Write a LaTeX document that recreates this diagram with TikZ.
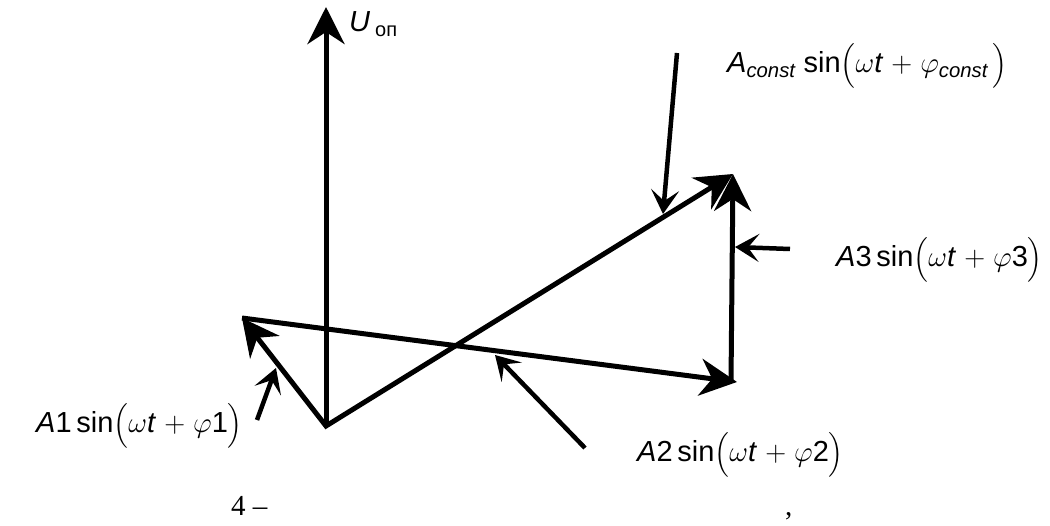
\RequirePackage{fix-cm}
\documentclass[tikz,border=0pt]{standalone}
\usepackage{amsmath}
\usepackage{fontspec}
\setmainfont{Liberation Sans}
\newfontfamily\serifrm{Liberation Serif}
\usetikzlibrary{arrows.meta}

\begin{document}
\begin{tikzpicture}[x=1pt, y=-1pt,
    vector/.style={line width=5pt, -{Stealth[length=37pt,width=37pt,inset=12pt]}},
    twovector/.style={line width=5pt, {Stealth[length=37pt,width=37pt,inset=12pt]}-{Stealth[length=37pt,width=37pt,inset=12pt]}},
    pointer/.style={line width=4.5pt, -{Stealth[length=24pt,width=28pt,inset=11pt]}},
    formula/.style={font=\fontsize{29}{33}\selectfont, inner sep=0pt}
]
    \useasboundingbox (0,0) rectangle (1050,526);

    % vector diagram
    \coordinate (origin) at (326,426);
    \coordinate (uTop) at (326,7);
    \coordinate (a1) at (242,318);
    \coordinate (a2) at (737,382);
    \coordinate (a3base) at (731,382);
    \coordinate (top) at (733,174);

    \draw[vector] (origin) -- (uTop);
    \draw[twovector, line join=miter] (a1) -- (origin) -- (top);
    \draw[vector] (a1) -- (a2);
    \draw[vector] (a3base) -- (top);

    % pointers
    \coordinate (constTail) at (677,53);
    \coordinate (constTip) at (663,214);
    \coordinate (a3Tail) at (790,249);
    \coordinate (a3Tip) at (735,247);
    \coordinate (a2Tail) at (585,448);
    \coordinate (a2Tip) at (495,355);
    \coordinate (a1Tail) at (257,420);
    \coordinate (a1Tip) at (276,368);

    \draw[pointer] (constTail) -- (constTip);
    \draw[pointer] (a3Tail) -- (a3Tip);
    \draw[pointer] (a2Tail) -- (a2Tip);
    \draw[pointer] (a1Tail) -- (a1Tip);

    % labels
    \node[formula, anchor=base west] (uLabel) at (349,32)
        {\itshape U\hspace{5pt}\upshape\fontsize{20}{22}\selectfont\raisebox{-5pt}{оп}};
    \node[formula, anchor=base west] (constLabel) at (727,73)
        {\textit{A}$_{\textit{const}}$ sin$\bigl(\omega$\textit{t} $+$ $\varphi_{\textit{const}}\,\bigr)$};
    \node[formula, anchor=base west] (a3Label) at (836,267)
        {\textit{A}3\,sin$\bigl(\omega$\textit{t} $+$ $\varphi$3$\bigr)$};
    \node[formula, anchor=base west] (a2Label) at (637,462)
        {\textit{A}2\,sin$\bigl(\omega$\textit{t} $+$ $\varphi$2$\bigr)$};
    \node[formula, anchor=base west] (a1Label) at (36,433)
        {\textit{A}1\,sin$\bigl(\omega$\textit{t} $+$ $\varphi$1$\bigr)$};

    % caption remains
    \node[font=\serifrm\fontsize{29}{34}\selectfont, anchor=base west, inner sep=0pt] (figNum) at (231,515) {4 –};
    \node[font=\serifrm\fontsize{29}{34}\selectfont, anchor=base west, inner sep=0pt] (comma) at (785,515) {,};
\end{tikzpicture}
\end{document}
